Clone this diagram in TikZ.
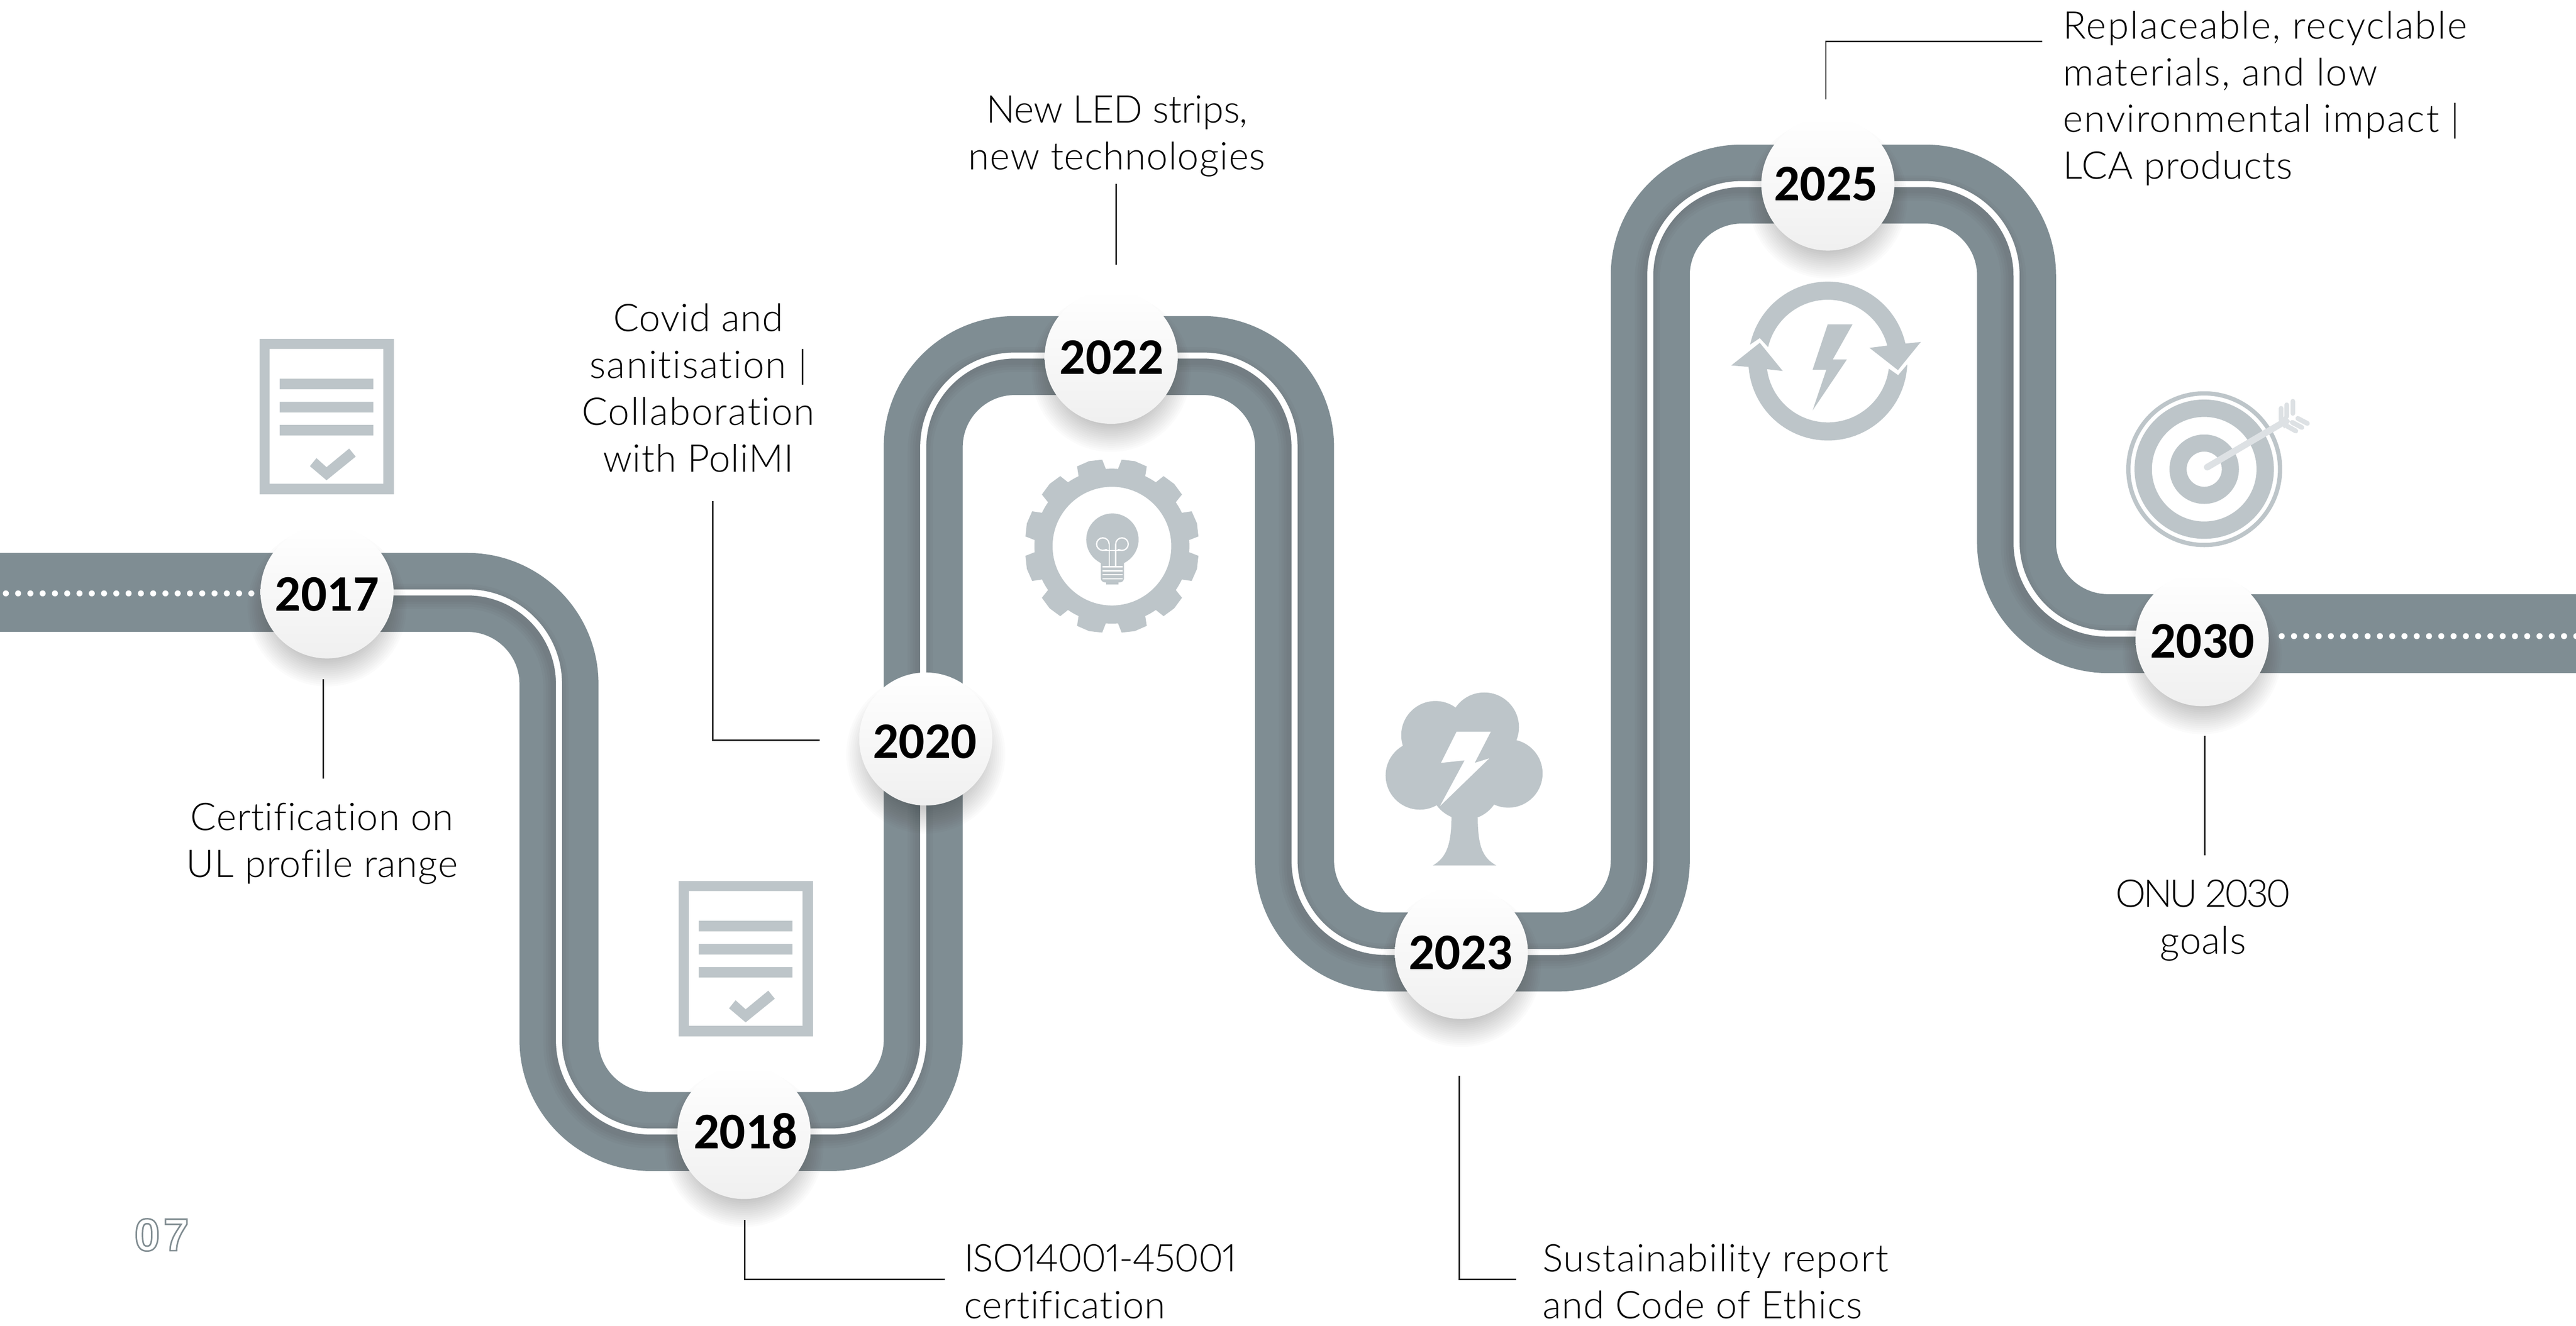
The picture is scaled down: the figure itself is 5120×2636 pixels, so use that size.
\documentclass[tikz,border=0pt]{standalone}
\usepackage{fontspec}
\usetikzlibrary{calc}
\newfontfamily\bodyfont[LetterSpace=1.5,Ligatures=CommonOff,Numbers=Proportional]{Lato Light}
\newfontfamily\yearfont{Carlito}[BoldFont=Carlito Bold]
\newfontfamily\pagefont[LetterSpace=8]{Liberation Sans}
\newcommand{\lsp}[2]{{\addfontfeature{LetterSpace=#1}#2}}
\definecolor{road}{HTML}{7F8D93}
\definecolor{icon}{HTML}{BDC5C9}
\definecolor{iconlight}{HTML}{DDE1E4}
\definecolor{leader}{HTML}{222222}
\tikzset{
  x=1pt,y=-1pt,
  roadline/.style={rounded corners=182pt,line cap=butt},
  leaderline/.style={draw=leader,line width=3pt},
  caption/.style={inner sep=0pt,outer sep=0pt,text=black,font=\bodyfont\fontsize{76}{93}\selectfont,anchor=base},
  yearbubble/.style={circle,minimum size=264.5pt,inner sep=0pt,top color=white,bottom color=black!6,shading angle=0,font=\yearfont\bfseries\fontsize{102}{102}\selectfont,text=black},
  iconfill/.style={fill=icon,draw=none},
}
% name, x, y, label, horizontal shift of the label, vertical shift of the label
\newcommand{\yearnode}[6]{%
  \foreach \rr in {102,106,...,160}{\fill[black,opacity=0.016] (#2,#3+30) circle[radius=\rr pt];}
  \pgfmathsetmacro{\hh}{64+2*#6}%
  \pgfmathsetmacro{\kk}{2*#5}%
  \node[yearbubble,text height=\hh pt,text depth=0pt] (#1) at (#2,#3) {\kern\kk pt #4};
}
\newcommand{\docicon}[2]{%
  \begin{scope}[shift={(#1,#2)}]
    \fill[icon,even odd rule] (516,674) rectangle (783,983) (536,694) rectangle (762,962);
    \fill[icon] (556,753) rectangle (742,774) (556,799) rectangle (742,820) (556,845) rectangle (742,866);
    \fill[icon] (616,927) -- (629,911) -- (649,929) -- (694,892) -- (707,908) -- (649,955) -- cycle;
  \end{scope}
}
\begin{document}
\begin{tikzpicture}
\useasboundingbox (0,0) rectangle (5120,2636);
\fill[white] (0,0) rectangle (5120,2636);
% road
\draw[road,line width=157pt,roadline] (-10,1178) -- (1111,1178) -- (1111,2250) -- (1835,2250) -- (1835,707) -- (2573,707) -- (2573,1893) -- (3280,1893) -- (3280,366) -- (4008,366) -- (4008,1260) -- (5130,1260);
% soft shadow of the white line
\foreach \w in {20,30,40,50}{
  \draw[black,opacity=0.025,line width=\w pt,roadline] (650,1186) -- (1105,1186) -- (1105,2258) -- (1829,2258) -- (1829,715) -- (2567,715) -- (2567,1901) -- (3274,1901) -- (3274,374) -- (4002,374) -- (4002,1268) -- (4377,1268);
}
\draw[white,line width=12pt,roadline] (650,1178) -- (1111,1178) -- (1111,2250) -- (1835,2250) -- (1835,707) -- (2573,707) -- (2573,1893) -- (3280,1893) -- (3280,366) -- (4008,366) -- (4008,1260) -- (4377,1260);
% dots
\foreach \k in {0,...,20}{\fill[white] (11.6+24.4*\k,1180) circle[radius=6pt];}
\foreach \k in {0,...,24}{\fill[white] (4535+24.4*\k,1265) circle[radius=6pt];}
% year bubbles
\yearnode{y2017}{650}{1177}{2017}{0}{6}
\yearnode{y2018}{1478.7}{2252}{2018}{3}{0}
\yearnode{y2020}{1840}{1469.5}{2020}{-1.5}{6.5}
\yearnode{y2022}{2208.5}{710.5}{2022}{1}{1.5}
\yearnode{y2023}{2904.5}{1894}{2023}{-1.5}{2}
\yearnode{y2025}{3633}{366}{2025}{-4}{1}
\yearnode{y2030}{4377}{1272}{2030}{0}{4}
% leaders
\coordinate (a17) at (643,1351); \coordinate (b17) at (643,1548);
\draw[leaderline] (a17) -- (b17);
\coordinate (a18) at (1480,2426); \coordinate (c18) at (1480,2544); \coordinate (b18) at (1878,2544);
\draw[leaderline] (a18) -- (c18) -- (b18);
\coordinate (a20) at (1629,1472); \coordinate (c20) at (1417,1472); \coordinate (b20) at (1417,996);
\draw[leaderline] (a20) -- (c20) -- (b20);
\coordinate (a22) at (2218,526); \coordinate (b22) at (2218,366);
\draw[leaderline] (a22) -- (b22);
\coordinate (a23) at (2900,2139); \coordinate (c23) at (2900,2544); \coordinate (b23) at (3014,2544);
\draw[leaderline] (a23) -- (c23) -- (b23);
\coordinate (a25) at (3629,198); \coordinate (c25) at (3629,82); \coordinate (b25) at (4059,82);
\draw[leaderline] (a25) -- (c25) -- (b25);
\coordinate (a30) at (4382,1463); \coordinate (b30) at (4382,1701);
\draw[leaderline] (a30) -- (b30);
% captions
\node[caption,align=center] (t17) at (640,1744) {Certification on\\UL profile range};
\node[caption,align=center] (t20) at (1388,938) {Covid and\\\lsp{3}{sanitisation |}\\\lsp{2.8}{Collaboration}\\with PoliMI};
\node[caption,align=center] (t22) at (2220,337) {\lsp{-0.9}{New LED strips,}\\new technologies};
\node[caption,align=left,anchor=base west] (t18) at (1916,2622) {\lsp{-2.2}{ISO14001-45001}\\certification};
\node[caption,align=left,anchor=base west] (t23) at (3066,2622) {\lsp{2.5}{Sustainability report}\\and Code of Ethics};
\node[caption,align=left,anchor=base west] (t25) at (4101,356) {\lsp{3.2}{Replaceable, recyclable}\\\lsp{3.2}{materials, and low}\\\lsp{3}{environmental impact |}\\LCA products};
\node[caption,align=center] (t30) at (4379,1897) {\lsp{-6.5}{ONU 2030}\\goals};
% page number
\node[inner sep=0pt,anchor=base west,font=\pagefont\bfseries\fontsize{91}{91}\selectfont] (pg) at (267,2487) {\special{pdf:code 1 Tr 3 w 0.5 0.55 0.57 RG}07\special{pdf:code 0 Tr}};
% document icons
\docicon{0}{0}
\docicon{833}{1078}
% gear
\fill[icon,even odd rule] (2210,1086) circle[radius=154pt] (2210,1086) circle[radius=118pt];
\foreach \g in {0,30,...,330}{
  \fill[icon] ({2210+153*cos(\g+4.4)},{1086-153*sin(\g+4.4)}) -- ({2210+173*cos(\g+6.4)},{1086-173*sin(\g+6.4)}) -- ({2210+175*cos(\g+15)},{1086-175*sin(\g+15)}) -- ({2210+173*cos(\g+23.6)},{1086-173*sin(\g+23.6)}) -- ({2210+153*cos(\g+25.6)},{1086-153*sin(\g+25.6)}) -- cycle;
}
\fill[icon] (2211,1073) circle[radius=52pt];
\fill[icon,rounded corners=8pt] (2188,1100) rectangle (2234,1158);
\fill[icon] (2199,1150) rectangle (2223,1162);
\draw[white,line width=2.5pt] (2192,1082) circle[radius=12.5pt] (2230,1082) circle[radius=12.5pt];
\fill[icon] (2193,1082.5) rectangle (2229,1092);
\draw[white,line width=2.5pt] (2204.5,1127) -- (2204.5,1082) (2217.5,1127) -- (2217.5,1082) (2192,1094.5) -- (2230,1094.5);
\foreach \s in {1127,1135,1143,1151}{\fill[white] (2191,\s-1.2) rectangle (2231,\s+1.2);}
% tree
\fill[icon] (2822,1542) circle[radius=68pt] (2853,1462) circle[radius=68pt] (2950,1446) circle[radius=69pt] (2998,1538) circle[radius=68pt] (2912,1560) circle[radius=70pt] (2905,1500) circle[radius=70pt];
\fill[icon] (2885,1620) .. controls (2885,1680) and (2875,1705) .. (2848,1721) -- (2974,1721) .. controls (2945,1705) and (2937,1680) .. (2937,1620) -- cycle;
\fill[white] (2895,1455) -- (2963,1455) -- (2931,1517) -- (2960,1508) -- (2862,1603) -- (2911,1512) -- (2864,1517) -- cycle;
% recycle
\fill[icon] plot[domain=168:12.7,samples=50] ({3633+158*cos(\x)},{718-158*sin(\x)}) -- (3817.7,680) -- (3772.3,736) -- (3715.7,691.7) -- plot[domain=14.6:166.8,samples=50] ({3633+122*cos(\x)},{718-122*sin(\x)}) -- (3497.7,672.3) -- cycle;
\fill[icon] plot[domain=-2.4:-175.8,samples=50] ({3633+158*cos(\x)},{718-158*sin(\x)}) -- (3441,726.7) -- (3497.7,681.7) -- (3543.3,737.7) -- plot[domain=-172.4:-7.1,samples=50] ({3633+122*cos(\x)},{718-122*sin(\x)}) -- (3772.7,746) -- cycle;
\fill[icon] (3632.7,645) -- (3682,645) -- (3642.7,715) -- (3670.7,715) -- (3602.7,816) -- (3630,735) -- (3602.7,735) -- cycle;
% target
\fill[icon,even odd rule] (4381,933) circle[radius=155pt] (4381,933) circle[radius=146.5pt] (4381,933) circle[radius=138.5pt] (4381,933) circle[radius=104pt] (4381,933) circle[radius=69pt] (4381,933) circle[radius=35pt];
\draw[iconlight,line width=13pt,line cap=round] (4387,929) -- (4533,843);
\draw[iconlight,line width=9.5pt,line cap=round] (4534,835) -- (4534,812) (4545,828) -- (4545,805) (4557,822) -- (4557,798);
\draw[iconlight,line width=9.5pt,line cap=round] (4545,847) -- (4563,857) (4556,840) -- (4575,850) (4567,832) -- (4586,842);
\fill[iconlight] (4530,838) -- (4542,826) -- (4552,838) -- (4540,852) -- cycle;
\end{tikzpicture}
\end{document}
